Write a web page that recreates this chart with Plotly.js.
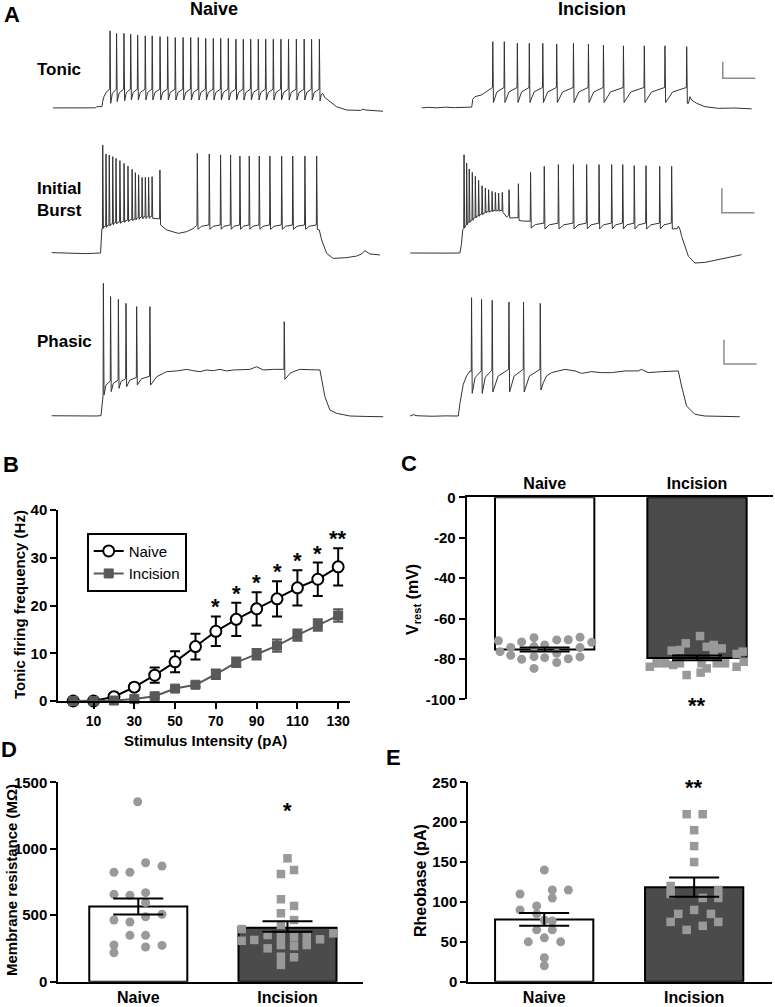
<!DOCTYPE html>
<html><head><meta charset="utf-8">
<script src="https://cdn.plot.ly/plotly-3.0.1.min.js"></script>
<style>html,body{margin:0;padding:0;background:#fff}</style>
</head><body><div id="fig" style="width:775px;height:1007px"></div>
<script>
// ================= DATA =================
// Panel A: example traces (time in ms from stimulus onset, membrane potential in mV)
// --- Tonic, Naive
const tnSpikeT = [37,67,101,132,164,199,231,267,302,337,373,408,443,477,512,546,581,616,650,684,719,753,788,823,858,894,930,964,1000];
const tnPeak   = [30,27,27,26,25,24,24,23,23,22,22,22,22,21,21,21,21,20,20,20,20,20,20,20,20,20,20,20,20];
const tnTrough = [-57,-55,-54,-53,-53,-53,-53,-53,-53,-53,-53,-53,-53,-53,-53,-53,-53,-53,-53,-53,-53,-53,-53,-53,-53,-53,-53,-53,-54];
const tnThr = -40;
const tnPreT = [-225,-150,-80,-30,-25,0,3,9,21,33];
const tnPreV = [-62.5,-62.3,-62.6,-62.4,-61,-61,-55,-49,-43,-41];
const tnPostT = [1008,1015,1025,1041,1079,1125,1190,1200,1212,1293];
const tnPostV = [-47,-45,-50,-53,-61,-65,-65.5,-64,-65,-66.5];
// --- Tonic, Incision
const tiSpikeT = [97,150,210,265,327,391,468,537,606,698,794,889,989];
const tiPeak   = [17,17,15,15,15,14,15,14,13,12,12,12,11];
const tiTrough = [-56,-56,-56,-56,-56,-56,-56,-56,-56,-56,-56,-56,-57];
const tiThr = -38;
const tiPreT = [-230,-200,-160,-120,-80,-40,-10,0,5,15,46,70,92];
const tiPreV = [-62.5,-61.8,-62.4,-61.6,-62.2,-61.8,-62,-61.5,-52,-49,-46.8,-43,-39];
const tiPostT = [997,1004,1012,1035,1073,1135,1210,1288];
const tiPostV = [-57,-49,-53,-57,-61,-63,-62.6,-63.6];
// --- Initial burst, Naive
const bnSpikeT = [8,23,38,54,69,87,106,124,143,158,173,189,204,219,235,271,443,498,550,596,639,682,728,777,831,882,938,992];
const bnPeak   = [26.6,19.2,18.4,17,15.6,13.7,11.5,9.3,6.6,3.9,2,0,0,0,0.6,6.1,19.7,19.2,18.4,18.4,17.5,17.5,17.5,17.5,17.5,17.5,17.5,17.5];
const bnTrough = [-41.8,-41,-39.9,-39,-38.2,-37.7,-36.9,-36.3,-35.5,-34.9,-34.4,-34.1,-33.8,-33.6,-33.6,-39,-42.6,-42.6,-42.6,-42.6,-42.6,-42.6,-42.6,-42.6,-42.6,-42.6,-42.6,-42.6];
const bnThr    = [-42,-40,-39,-38,-37,-36.5,-36,-35,-34.5,-34,-33,-32.5,-32,-32,-32,-34,-39,-39,-39,-39,-39,-39,-39,-39,-39,-39,-39,-39];
const bnPreT = [-227,-190,-150,-110,-70,-30,-2,4];
const bnPreV = [-61.7,-61.9,-62.3,-62,-62.5,-62.2,-62,-42];
const bnExtraT = [302,356,394,425,440];
const bnExtraV = [-43.1,-45.9,-44.5,-41.8,-39.5];
const bnPostT = [1004,1015,1038,1068,1130,1176,1199,1214,1237,1283];
const bnPostV = [-43,-51.3,-62.3,-66.4,-65.8,-64.5,-62.8,-60.1,-62.8,-63.6];
// --- Initial burst, Incision
const biSpikeT = [14,26,38,52,66,81,97,112,127,143,158,173,190,221,264,320,383,448,517,578,635,693,744,797,851,914,969];
const biPeak   = [18.6,11.8,6.9,4.1,0.9,-2.4,-6.8,-8.7,-10.1,-11.4,-12.3,-12.8,-12.3,-10.1,-5.2,4.1,9.1,10.5,10.5,10.5,10.5,10.5,10.5,9.6,9.6,9.1,9.1];
const biTrough = [-41.5,-38.8,-36.9,-35.2,-33.3,-31.9,-30.6,-29.2,-28.7,-28.1,-27.8,-27.8,-28.7,-33.3,-35.2,-41.5,-42.3,-42.3,-42.3,-42.3,-42.3,-42.3,-42.3,-42.3,-42.3,-42.3,-42.3];
const biThr    = [-42,-39,-37,-35,-33,-31.5,-30,-29,-28,-27.5,-27,-27,-27,-31,-33,-36,-37.5,-37.5,-37.5,-37.5,-37.5,-37.5,-37.5,-37.5,-37.5,-37.5,-37.5];
const biPreT = [-233,-180,-120,-60,-5,2,8,12];
const biPreV = [-62,-62.2,-61.9,-62.1,-62,-55,-43,-42];
const biExtraT = [210];
const biExtraV = [-32.5];
const biPostT = [995,1000,1007,1015,1046,1076,1122,1183,1245,1291];
const biPostV = [-42,-40,-42.5,-48.3,-64.7,-70.2,-69.7,-67.5,-64.7,-63.4];
// --- Phasic, Naive
const pnSpikeT = [11,44,80,115,164,225,843];
const pnPeak   = [48.1,37.1,34.8,31.5,28.8,28.8,16.3];
const pnTrough = [-44.6,-41.8,-39,-37.7,-36.3,-36.3,-31.6];
const pnThr    = [-45,-33,-32,-31,-30,-29,-23.3];
const pnPreT = [-227,-150,-80,-20,0,6];
const pnPreV = [-61.8,-62,-61.6,-62,-61.7,-50];
const pnExtraT = [256,287,302,348,394,425,455,486,517,547,578,609,639,685,716,747,793,831];
const pnExtraV = [-29.4,-26.6,-25.2,-24.6,-23.3,-24.4,-25.2,-23.8,-24.4,-23.3,-24.6,-23.8,-23.8,-23.3,-21.1,-23.8,-23.3,-23.3];
const pnPostT = [869,885,915,961,1007,1030,1053,1084,1145,1222,1298];
const pnPostV = [-26.6,-25.2,-23.3,-23.8,-23.8,-46,-57,-59.8,-62,-62.4,-62.6];
// --- Phasic, Incision
const piSpikeT = [61,107,156,233,300,377];
const piPeak   = [36.2,34.8,34,32.6,32.6,31.5];
const piTrough = [-43.2,-43.2,-42.1,-42.1,-42.1,-40.4];
const piThr    = [-25,-24.5,-24,-23.3,-23.3,-23.3];
const piPreT = [-222,-207,-190,-120,-60,0,8,15,23,38,54];
const piPreV = [-62,-60.9,-61.8,-62.2,-61.9,-62,-50.9,-42.6,-35.7,-28.8,-24.6];
const piPostT = [392,406,429,491,537,567,613,659,705,767,828,843,874,935,1012,1027,1050,1088,1134,1295];
const piPostV = [-34,-28.8,-26,-23.3,-24.6,-26.6,-25.2,-26,-26,-24.6,-24.6,-23.3,-26,-25.2,-24.6,-37.1,-53.7,-60.6,-62,-62.6];
// scale bars: 20 mV / 150 ms
const sbMV = 20, sbMS = 150;

// Panel B: tonic firing frequency vs stimulus intensity
const stim = [0,10,20,30,40,50,60,70,80,90,100,110,120,130];
const bNaive    = [0,0,0.9,2.9,5.4,8.2,11.4,14.6,17.1,19.3,21.4,23.7,25.5,28.1];
const bNaiveErr = [0,0,0.3,0.7,1.6,2.2,2.7,3.1,3.5,3.5,3.7,3.7,3.5,3.9];
const bInc      = [0,0,0.1,0.4,1.0,2.6,3.4,5.6,8.1,9.8,11.6,13.8,15.9,17.9];
const bIncErr   = [0,0,0,0.2,0.3,0.4,0.5,1.0,1.0,1.1,1.3,1.2,1.2,1.3];
const bTickVals = [10,30,50,70,90,110,130];
const bYTicks   = [0,10,20,30,40];
const bStarX    = [70,80,90,100,110,120,130];
const bStarText = ['*','*','*','*','*','*','**'];

// Panel C: resting membrane potential (mV)
const groups = ['Naive','Incision'];
const cYTicks = [0,-20,-40,-60,-80,-100];
const cMean = [-75.3,-79.5];
const cSem  = [1.0,1.2];
const cNaiveJit = [-0.304,-0.151,-0.070,0,0.079,0.155,0.232,0.309,-0.293,-0.223,-0.070,0.232,0.079,-0.223,-0.151,-0.070,0,0.079,0.155,0.232,-0.070];
const cNaiveVal = [-71.0,-71.6,-69.5,-73.1,-70.6,-70.5,-69.3,-71.8,-76.4,-74.3,-73.9,-74.4,-77.2,-78.2,-80.2,-78.9,-79.4,-81.8,-79.9,-79.0,-84.7];
const cIncJit = [0.02,-0.074,-0.166,-0.112,0.064,0.11,0.162,0.11,0.26,0.30,-0.31,-0.265,-0.21,-0.156,-0.112,0.03,0.064,0.13,0.184,0.26,0.307,-0.068,0.024];
const cIncVal = [-68.7,-72.3,-75.9,-75.6,-74.0,-73.1,-74.8,-76.9,-77.6,-76.4,-83.9,-82.2,-82.2,-83.0,-82.2,-82.2,-84.7,-82.2,-82.2,-83.9,-81.4,-88.0,-86.8];

// Panel D: membrane resistance (MOhm)
const dYTicks = [0,500,1000,1500];
const dMean = [565,405];
const dErrPlus = [60,50];
const dErrMinus = [60,30];
const dNaiveJit = [-0.004,-0.163,-0.056,0.049,0.159,-0.163,-0.056,0.049,0.049,-0.163,-0.056,0.049,0.159,-0.056,0.049,-0.163,0.049,0.159,-0.163];
const dNaiveVal = [1354,823,823,895,870,657,650,670,595,464,449,489,507,349,349,276,261,273,218];
const dIncJit = [0,0.044,-0.044,-0.044,0.044,-0.044,0.044,-0.044,-0.307,-0.307,-0.223,-0.133,-0.044,0.044,0.129,0.218,0.307,-0.133,-0.044,0.044,0.129,-0.044,0.044,-0.044];
const dIncVal = [928,840,810,620,570,515,464,427,396,308,314,351,334,334,334,319,364,251,276,269,276,188,184,126];

// Panel E: rheobase (pA)
const eYTicks = [0,50,100,150,200,250];
const eMean = [78,118.5];
const eSem = [8,12];
const eNaiveJit = [0.001,-0.161,0.054,0.161,0.054,-0.05,-0.161,-0.05,0.001,0.054,-0.05,0.054,-0.106,0.001,0.11,0.001,0.001];
const eNaiveVal = [140,110,115,115,105,95,90,85,77,76,65,65,50,55,50,30,20];
const eIncJit = [-0.05,0.057,0,0,0,-0.157,0.161,-0.157,0.057,0.161,0,-0.106,0.112,-0.157,0.161,0.057,-0.05];
const eIncVal = [210,210,190,170,150,120,115,110,105,105,90,85,85,75,75,70,65];

// ================= DRAWING =================
const FONT = "'Liberation Sans', Arial, Helvetica, sans-serif";
const W = 775, H = 1007;
const px = v => v / W;
const py = v => 1 - v / H;
const MS_PER_PX = 4.6;
const bold = arr => arr.map(v => '<b>' + String(v) + '</b>');

function buildTrace(spikeT, peak, trough, thr, preT, preV, extraT, extraV, postT, postV) {
  const pts = [];
  preT.forEach((t, i) => pts.push([t, preV[i]]));
  const thrA = Array.isArray(thr) ? thr : spikeT.map(() => thr);
  spikeT.forEach((t, i) => {
    if (i > 0) {
      const tp = spikeT[i - 1];
      const has = extraT.some(e => e > tp + 3 && e < t - 1.5);
      if (!has && t - tp > 10) {
        pts.push([tp + 0.35 * (t - tp), trough[i - 1] + 0.7 * (thrA[i] - trough[i - 1])]);
      }
    }
    pts.push([t - 1.5, thrA[i]]);
    pts.push([t, peak[i]]);
    pts.push([t + 3, trough[i]]);
  });
  extraT.forEach((t, i) => pts.push([t, extraV[i]]));
  postT.forEach((t, i) => pts.push([t, postV[i]]));
  pts.sort((a, b) => a[0] - b[0]);
  return { x: pts.map(p => p[0]), y: pts.map(p => p[1]) };
}

// axis boxes for traces: [pxL, pxR, pyTop, pyBottom, onsetPx, baselinePy, mVperPx]
const traceBoxes = [
  [50, 386, 25, 115, 102, 107.5, 1.2],
  [405, 760, 25, 115, 471.7, 107.5, 1.2],
  [50, 386, 135, 270, 101, 253, 0.82],
  [405, 760, 135, 270, 461, 253, 0.82],
  [50, 386, 275, 425, 101, 416, 0.83],
  [405, 760, 275, 425, 458.3, 416, 0.83]
];
const traceDefs = [
  buildTrace(tnSpikeT, tnPeak, tnTrough, tnThr, tnPreT, tnPreV, [], [], tnPostT, tnPostV),
  buildTrace(tiSpikeT, tiPeak, tiTrough, tiThr, tiPreT, tiPreV, [], [], tiPostT, tiPostV),
  buildTrace(bnSpikeT, bnPeak, bnTrough, bnThr, bnPreT, bnPreV, bnExtraT, bnExtraV, bnPostT, bnPostV),
  buildTrace(biSpikeT, biPeak, biTrough, biThr, biPreT, biPreV, biExtraT, biExtraV, biPostT, biPostV),
  buildTrace(pnSpikeT, pnPeak, pnTrough, pnThr, pnPreT, pnPreV, pnExtraT, pnExtraV, pnPostT, pnPostV),
  buildTrace(piSpikeT, piPeak, piTrough, piThr, piPreT, piPreV, [], [], piPostT, piPostV)
];

const layout = {
  width: W, height: H,
  margin: { l: 0, r: 0, t: 0, b: 0 },
  paper_bgcolor: 'white', plot_bgcolor: 'rgba(0,0,0,0)',
  font: { family: FONT, color: 'black' },
  showlegend: true,
  legend: {
    x: px(86.7), y: py(532.7), xanchor: 'left', yanchor: 'top',
    bordercolor: 'black', borderwidth: 2, bgcolor: 'white',
    font: { size: 15, family: FONT, color: 'black' },
    itemwidth: 30, tracegroupgap: 0
  },
  annotations: []
};
const data = [];

// scale-bar anchor (start time, top mV) for each incision trace row
const scaleAnchors = { 2: [1155, -7], 4: [1200, -9], 6: [1222, 1.2] };

traceBoxes.forEach((b, i) => {
  const n = i + 1;
  const [L, R, T, B, on, base, k] = b;
  layout['xaxis' + n] = { domain: [px(L), px(R)], range: [(L - on) * MS_PER_PX, (R - on) * MS_PER_PX], visible: false, anchor: 'y' + n, fixedrange: true };
  layout['yaxis' + n] = { domain: [py(B), py(T)], range: [-62 - (B - base) * k, -62 + (base - T) * k], visible: false, anchor: 'x' + n, fixedrange: true };
  data.push({ type: 'scatter', mode: 'lines', x: traceDefs[i].x, y: traceDefs[i].y, xaxis: 'x' + n, yaxis: 'y' + n,
    line: { color: '#333333', width: 1 }, showlegend: false, hoverinfo: 'skip' });
  if (scaleAnchors[n]) {
    const [t0, v0] = scaleAnchors[n];
    data.push({ type: 'scatter', mode: 'lines', x: [t0, t0, t0 + sbMS], y: [v0, v0 - sbMV, v0 - sbMV],
      xaxis: 'x' + n, yaxis: 'y' + n, line: { color: '#8c8c8c', width: 1.5 }, showlegend: false, hoverinfo: 'skip' });
  }
});

const tickFont = { family: FONT, size: 15, color: 'black' };
const axStyle = {
  showline: true, linecolor: 'black', linewidth: 2, showgrid: false, zeroline: false,
  ticks: 'outside', ticklen: 6, tickwidth: 2, tickcolor: 'black',
  tickfont: tickFont, fixedrange: true
};
const catFont = { family: FONT, size: 16, color: 'black' };

// ----- Panel B -----
layout.xaxis7 = Object.assign({}, axStyle, { domain: [px(58.3), px(350)], range: [-7.3, 135.8], tickvals: bTickVals, ticktext: bold(bTickVals), anchor: 'y7', tickfont: { family: FONT, size: 14, color: 'black' } });
layout.yaxis7 = Object.assign({}, axStyle, { domain: [py(701), py(510)], range: [0, 40], tickvals: bYTicks, ticktext: bold(bYTicks), anchor: 'x7' });
data.push({ type: 'scatter', mode: 'lines+markers', name: 'Naive', x: stim, y: bNaive, xaxis: 'x7', yaxis: 'y7', cliponaxis: false,
  line: { color: 'black', width: 2 }, marker: { symbol: 'circle', size: 11, color: 'white', line: { color: 'black', width: 2 } },
  error_y: { type: 'data', array: bNaiveErr, color: 'black', thickness: 2, width: 5 } });
data.push({ type: 'scatter', mode: 'lines+markers', name: 'Incision', x: stim, y: bInc, xaxis: 'x7', yaxis: 'y7', cliponaxis: false,
  line: { color: '#595959', width: 2 }, marker: { symbol: 'square', size: 9, color: '#595959', line: { color: '#595959', width: 1 } },
  error_y: { type: 'data', array: bIncErr, color: '#595959', thickness: 2, width: 5 } });
bStarX.forEach((x, i) => {
  const idx = stim.indexOf(x);
  layout.annotations.push({ xref: 'x7', yref: 'y7', x: x, y: bNaive[idx] + bNaiveErr[idx], text: '<b>' + bStarText[i] + '</b>',
    showarrow: false, yanchor: 'bottom', yshift: -5, font: { size: 22, family: FONT, color: 'black' } });
});

// generic bar+dots panel
function barPanel(n, means, errPlus, errMinus, naiveJit, naiveVal, incJit, incVal, width) {
  data.push({ type: 'bar', x: [0, 1], y: means, width: width, xaxis: 'x' + n, yaxis: 'y' + n,
    marker: { color: ['white', '#4b4b4b'], line: { color: 'black', width: 2 } }, showlegend: false, hoverinfo: 'skip' });
  data.push({ type: 'scatter', mode: 'markers', x: naiveJit, y: naiveVal, xaxis: 'x' + n, yaxis: 'y' + n, cliponaxis: false,
    marker: { symbol: 'circle', size: 9, color: '#999999' }, showlegend: false, hoverinfo: 'skip' });
  data.push({ type: 'scatter', mode: 'markers', x: incJit.map(j => 1 + j), y: incVal, xaxis: 'x' + n, yaxis: 'y' + n, cliponaxis: false,
    marker: { symbol: 'square', size: 8.5, color: '#999999' }, showlegend: false, hoverinfo: 'skip' });
  data.push({ type: 'scatter', mode: 'markers', x: [0, 1], y: means, xaxis: 'x' + n, yaxis: 'y' + n, cliponaxis: false,
    marker: { size: 1, color: 'rgba(0,0,0,0)' }, showlegend: false, hoverinfo: 'skip',
    error_y: { type: 'data', symmetric: false, array: errPlus, arrayminus: errMinus, color: 'black', thickness: 2, width: 25 } });
}

// ----- Panel C -----
layout.xaxis8 = Object.assign({}, axStyle, { domain: [px(466.7), px(773)], range: [-0.512, 1.499], side: 'top', anchor: 'y8',
  tickvals: [0, 1], ticktext: bold(groups), ticks: '', tickfont: catFont });
layout.yaxis8 = Object.assign({}, axStyle, { domain: [py(699.3), py(497.3)], range: [-100, 0], tickvals: cYTicks, ticktext: bold(cYTicks), anchor: 'x8' });
barPanel(8, cMean, cSem, cSem, cNaiveJit, cNaiveVal, cIncJit, cIncVal, 0.652);

// ----- Panel D -----
layout.xaxis9 = Object.assign({}, axStyle, { domain: [px(58.3), px(363)], range: [-0.536, 1.506], anchor: 'y9',
  tickvals: [0, 1], ticktext: bold(groups), ticks: '', ticklabelstandoff: 0, tickfont: catFont });
layout.yaxis9 = Object.assign({}, axStyle, { domain: [py(981.7), py(782.3)], range: [0, 1500], tickvals: dYTicks, ticktext: bold(dYTicks), anchor: 'x9' });
barPanel(9, dMean, dErrPlus, dErrMinus, dNaiveJit, dNaiveVal, dIncJit, dIncVal, 0.657);

// ----- Panel E -----
layout.xaxis10 = Object.assign({}, axStyle, { domain: [px(468.3), px(771.7)], range: [-0.506, 1.517], anchor: 'y10',
  tickvals: [0, 1], ticktext: bold(groups), ticks: '', ticklabelstandoff: 0, tickfont: catFont });
layout.yaxis10 = Object.assign({}, axStyle, { domain: [py(981.7), py(782.3)], range: [0, 250], tickvals: eYTicks, ticktext: bold(eYTicks), anchor: 'x10' });
barPanel(10, eMean, eSem, eSem, eNaiveJit, eNaiveVal, eIncJit, eIncVal, 0.655);

// significance stars in C, D, E
layout.annotations.push({ xref: 'x8', yref: 'y8', x: 1, y: -100, text: '<b>**</b>', showarrow: false, yanchor: 'middle', yshift: -6, font: { size: 22, family: FONT } });
layout.annotations.push({ xref: 'x9', yref: 'y9', x: 1, y: 1312, text: '<b>*</b>', showarrow: false, yanchor: 'middle', yshift: -3, font: { size: 22, family: FONT } });
layout.annotations.push({ xref: 'x10', yref: 'y10', x: 1, y: 246, text: '<b>**</b>', showarrow: false, yanchor: 'middle', yshift: -2, font: { size: 22, family: FONT } });

// text labels
function label(text, x, y, size, opts) {
  layout.annotations.push(Object.assign({ xref: 'paper', yref: 'paper', x: px(x), y: py(y), text: text, showarrow: false,
    xanchor: 'center', yanchor: 'middle', font: { size: size, family: FONT, color: 'black' } }, opts || {}));
}
label('<b>A</b>', 12, 15, 22);
label('<b>Naive</b>', 214, 9, 18);
label('<b>Incision</b>', 592, 9, 18);
label('<b>Tonic</b>', 35, 69, 17, { xanchor: 'left' });
label('<b>Initial<br>Burst</b>', 35, 200, 17, { xanchor: 'left', align: 'left' });
label('<b>Phasic</b>', 35, 342, 17, { xanchor: 'left' });
label('<b>B</b>', 11, 464, 22);
label('<b>C</b>', 409, 463, 22);
label('<b>D</b>', 9, 749, 22);
label('<b>E</b>', 393, 757, 22);
label('<b>Tonic firing frequency (Hz)</b>', 19, 605, 15, { textangle: -90 });
label('<b>Stimulus Intensity (pA)</b>', 205, 740, 15);
label('<b>V<sub>rest</sub> (mV)</b>', 413, 600, 16, { textangle: -90 });
label('<b>Membrane resistance (MΩ)</b>', 11, 880, 15, { textangle: -90 });
label('<b>Rheobase (pA)</b>', 420, 881, 16, { textangle: -90 });

Plotly.newPlot('fig', data, layout, { staticPlot: true, displayModeBar: false });
</script>
</body></html>
